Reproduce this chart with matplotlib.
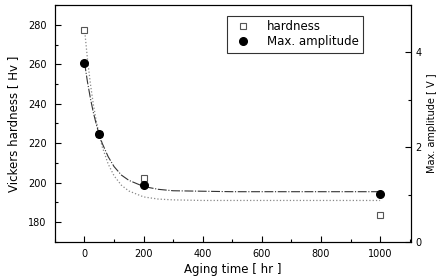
import matplotlib

matplotlib.use("Agg")
import matplotlib.pyplot as plt
from matplotlib.ticker import MultipleLocator

# measured points
hard_t = [0, 50, 200, 1000]
hardness = [277.5, 224.5, 202.5, 183.5]
amp_t = [0, 50, 200, 1000]
amplitude = [3.78, 2.27, 1.21, 1.02]

# fitted curves
fit_t = [0, 10, 20, 30, 40, 50, 60, 80, 100, 125, 150, 200, 250, 300, 400, 500, 700, 1000]
hard_fit = [278, 262.7, 250.1, 239.6, 231.1, 224.1, 218.2, 209.5, 203.5, 198.7,
            195.8, 192.8, 191.7, 191.3, 191.0, 191.0, 191.0, 191.0]
amp_fit = [3.79, 3.38, 3.03, 2.73, 2.48, 2.26, 2.08, 1.80, 1.59, 1.41,
           1.30, 1.17, 1.11, 1.08, 1.07, 1.06, 1.06, 1.06]

plt.rcParams["font.family"] = ["DejaVu Sans"]

fig = plt.figure(figsize=(4.36, 2.80), dpi=100)
ax = fig.add_axes([0.126, 0.136, 0.817, 0.846])
ax2 = ax.twinx()

ax.plot(fit_t, hard_fit, ls=":", color="#888888", lw=0.9)
ax2.plot(fit_t, amp_fit, ls=(0, (8, 1.5, 1, 1.5)), color="#333333", lw=0.8)
h1, = ax.plot(hard_t, hardness, ls="none", marker="s", ms=4.5, mfc="white",
              mec="#555555", mew=0.8, label="hardness")
h2, = ax2.plot(amp_t, amplitude, ls="none", marker="o", ms=5.5, color="black",
               label="Max. amplitude")

ax.set_xlim(-100, 1105)
ax.set_ylim(170, 290)
ax2.set_ylim(0, 5)

ax.xaxis.set_major_locator(MultipleLocator(200))
ax.xaxis.set_minor_locator(MultipleLocator(100))
ax.yaxis.set_major_locator(MultipleLocator(20))
ax.yaxis.set_minor_locator(MultipleLocator(10))
ax2.yaxis.set_major_locator(MultipleLocator(2))
ax2.yaxis.set_minor_locator(MultipleLocator(1))

for a in (ax, ax2):
    a.tick_params(which="both", direction="in", labelsize=7, width=0.8)
    a.tick_params(which="major", length=4)
    a.tick_params(which="minor", length=2)
ax.tick_params(axis="x", pad=5)
ax.tick_params(axis="y", pad=6)
ax2.tick_params(axis="y", pad=3)

ax.set_xlabel("Aging time [ hr ]", fontsize=8.5, labelpad=3)
ax.set_ylabel("Vickers hardness [ Hv ]", fontsize=8.5, labelpad=6)
ax2.set_ylabel("Max. amplitude [ V ]", fontsize=7)
ax2.yaxis.set_label_coords(1.045, 0.5)

leg = ax2.legend(handles=[h1, h2], loc="upper left", bbox_to_anchor=(0.482, 0.955),
                 fontsize=8.5, frameon=True, fancybox=False, edgecolor="black",
                 borderpad=0.4, handletextpad=1.0, borderaxespad=0, labelspacing=0.15)
leg.get_frame().set_linewidth(0.8)

fig.savefig("out.png", dpi=100)
